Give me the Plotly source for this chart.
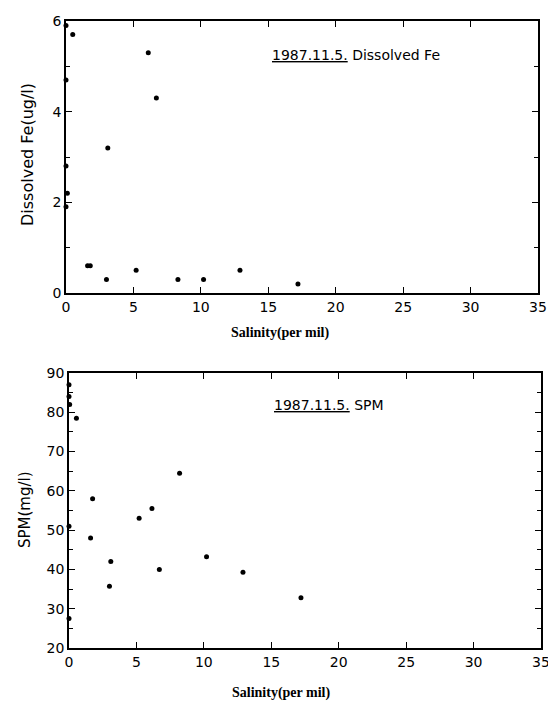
import plotly.graph_objects as go

# Dissolved Fe vs salinity (1987.11.5)
fe_salinity = [0, 0.5, 0, 6.1, 6.7, 3.1, 0, 0.1, 0, 1.6, 1.8, 3.0, 5.2, 8.3, 10.2, 12.9, 17.2]
fe_values = [5.9, 5.7, 4.7, 5.3, 4.3, 3.2, 2.8, 2.2, 1.9, 0.6, 0.6, 0.3, 0.5, 0.3, 0.3, 0.5, 0.2]

# SPM vs salinity (1987.11.5)
spm_salinity = [0, 0, 0.05, 0.55, 8.2, 1.75, 6.15, 0, 5.2, 1.6, 3.1, 10.2, 6.7, 12.9, 3.0, 0, 17.2]
spm_values = [87, 84, 82, 78.5, 64.5, 58, 55.5, 51, 53, 48, 42, 43.2, 40, 39.3, 35.7, 27.5, 32.8]

x_ticks = [0, 5, 10, 15, 20, 25, 30, 35]
fe_ticks = [0, 2, 4, 6]
spm_ticks = [20, 30, 40, 50, 60, 70, 80, 90]

W, H = 548, 703
sans = "DejaVu Sans, sans-serif"
serif = "Liberation Serif, DejaVu Serif, serif"

fig = go.Figure()

fig.add_trace(go.Scatter(
    x=fe_salinity, y=fe_values, mode="markers", xaxis="x", yaxis="y",
    marker=dict(size=5, color="black"), cliponaxis=False, showlegend=False,
))
fig.add_trace(go.Scatter(
    x=spm_salinity, y=spm_values, mode="markers", xaxis="x2", yaxis="y2",
    marker=dict(size=5, color="black"), cliponaxis=False, showlegend=False,
))

axis_common = dict(
    showline=True, linecolor="black", linewidth=1.5, mirror="ticks",
    ticks="inside", ticklen=6, tickcolor="black", tickwidth=1,
    showgrid=False, zeroline=False, automargin=False,
    tickfont=dict(family=sans, size=14, color="black"),
    ticklabeloverflow="allow",
)

fig.update_layout(
    width=W, height=H,
    margin=dict(l=0, r=0, t=0, b=0, autoexpand=False),
    paper_bgcolor="white", plot_bgcolor="white",
    xaxis=dict(domain=[66 / W, 538 / W], anchor="y", range=[0, 35],
               tickvals=x_ticks, **axis_common),
    yaxis=dict(domain=[1 - 293 / H, 1 - 21 / H], anchor="x", range=[0, 6],
               tickvals=fe_ticks,
               minor=dict(dtick=1, ticks="inside", ticklen=4, tickcolor="black"),
               **axis_common),
    xaxis2=dict(domain=[69 / W, 541 / W], anchor="y2", range=[0, 35],
                tickvals=x_ticks, **axis_common),
    yaxis2=dict(domain=[1 - 648 / H, 1 - 373 / H], anchor="x2", range=[20, 90],
                tickvals=spm_ticks,
                minor=dict(dtick=5, ticks="inside", ticklen=4, tickcolor="black"),
                **axis_common),
)

annotations = [
    dict(text="<b>Salinity(per mil)</b>", x=280 / W, y=1 - 333 / H,
         font=dict(family=serif, size=14, color="black")),
    dict(text="<b>Salinity(per mil)</b>", x=281 / W, y=1 - 693 / H,
         font=dict(family=serif, size=14, color="black")),
    dict(text="Dissolved Fe(ug/l)", x=28 / W, y=1 - 155 / H, textangle=-90,
         font=dict(family=sans, size=16, color="black")),
    dict(text="SPM(mg/l)", x=25 / W, y=1 - 510 / H, textangle=-90,
         font=dict(family=sans, size=15, color="black")),
    dict(text="<u>1987.11.5.</u> Dissolved Fe", x=270 / W, y=1 - 55 / H, xanchor="left",
         font=dict(family=sans, size=14, color="black")),
    dict(text="<u>1987.11.5.</u> SPM", x=272 / W, y=1 - 405 / H, xanchor="left",
         font=dict(family=sans, size=14, color="black")),
]
for a in annotations:
    a.setdefault("xanchor", "center")
    fig.add_annotation(xref="paper", yref="paper", showarrow=False, yanchor="middle", **a)

# drop the browser's default body margin so the figure sits at the page corner
fig.write_html("out.html", config={"displayModeBar": False},
               post_script="document.body.style.margin='0';")
